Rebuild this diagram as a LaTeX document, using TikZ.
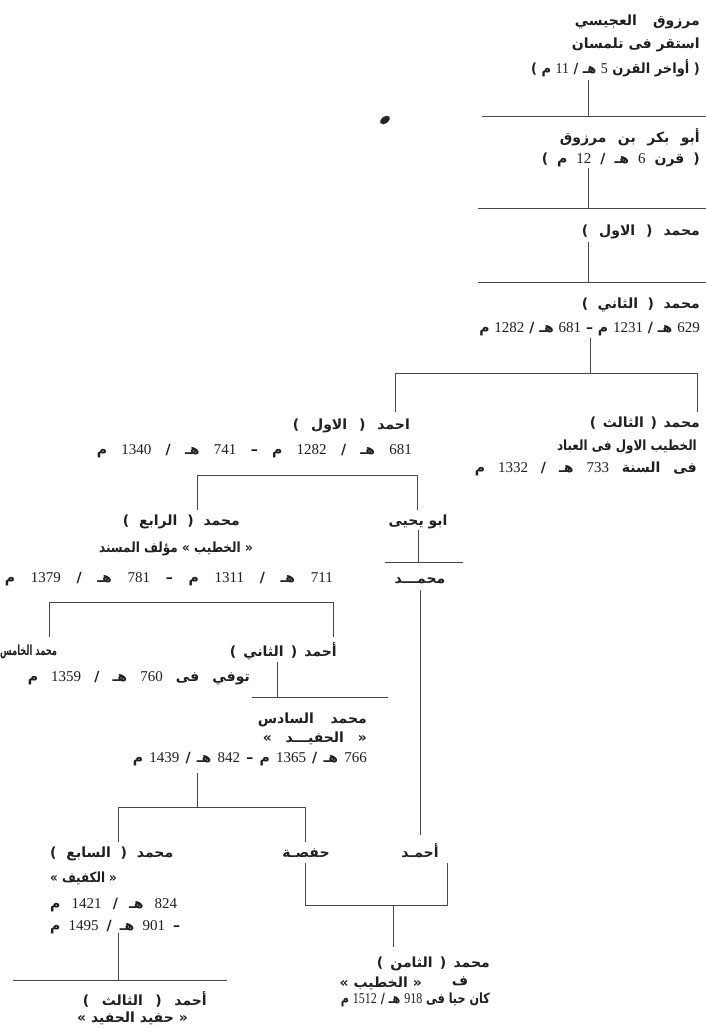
\documentclass[tikz,border=0pt]{standalone}
\usepackage{fontspec}
\usepackage{graphicx}
\TeXXeTstate=1
\newfontfamily\arabicfont[Script=Arabic]{DejaVu Sans}
\newfontfamily\numfont{Liberation Serif}
\newcommand\nm[1]{\beginL{\numfont\mdseries\fontsize{15}{15}\selectfont #1}\endL}
\hbadness=10000 \hfuzz=100pt
\begin{document}
\begin{tikzpicture}[x=1pt,y=-1pt,
  lbl/.style={inner sep=0pt, text=black!88, font=\arabicfont\bfseries\fontsize{14}{16}\selectfont},
  ln/.style={draw=black!72, line width=0.8pt}]
\useasboundingbox (0,0) rectangle (706,1029);
\fill[white] (0,0) rectangle (706,1029);

% texts
\node[lbl,anchor=base east] (t1) at (700,25) {\hbox to 125pt{\beginR مرزوق العجيسي\endR}};
\node[lbl,anchor=base east] (t2) at (700,48) {\beginR استقر فى تلمسان\endR};
\node[lbl,anchor=base east] (t3) at (700,73) {\scalebox{0.93}[1]{\beginR ( أواخر القرن \nm{5} هـ / \nm{11} م )\endR}};
\node[lbl,anchor=base east] (t4) at (700,142) {\hbox to 140pt{\beginR أبو بكر بن مرزوق\endR}};
\node[lbl,anchor=base east] (t5) at (700,163) {\hbox to 158pt{\beginR ( قرن \nm{6} هـ / \nm{12} م )\endR}};
\node[lbl,anchor=base east] (t6) at (700,235) {\hbox to 118pt{\beginR محمد ( الاول )\endR}};
\node[lbl,anchor=base east] (t7) at (700,308) {\hbox to 118pt{\beginR محمد ( الثاني )\endR}};
\node[lbl,anchor=base east] (t8) at (700,332) {\beginR \nm{629} هـ / \nm{1231} م – \nm{681} هـ / \nm{1282} م\endR};
\node[lbl,anchor=base east] (t9) at (700,427) {\hbox to 110pt{\beginR محمد ( الثالث )\endR}};
\node[lbl,anchor=base east] (t10) at (697,450) {\scalebox{0.85}[1]{\beginR الخطيب الاول فى العباد\endR}};
\node[lbl,anchor=base east] (t11) at (697,472) {\hbox to 222pt{\beginR فى السنة \nm{733} هـ / \nm{1332} م\endR}};
\node[lbl,anchor=base east] (t12) at (410,429) {\hbox to 117pt{\beginR احمد ( الاول )\endR}};
\node[lbl,anchor=base east] (t13) at (412,454) {\hbox to 315pt{\beginR \nm{681} هـ / \nm{1282} م – \nm{741} هـ / \nm{1340} م\endR}};
\node[lbl,anchor=base] (t14) at (418,525) {\beginR ابو يحيى\endR};
\node[lbl,anchor=base east] (t15) at (240,525) {\hbox to 117pt{\beginR محمد ( الرابع )\endR}};
\node[lbl,anchor=base east] (t16) at (253,552) {\scalebox{0.86}[1]{\beginR « الخطيب » مؤلف المسند\endR}};
\node[lbl,anchor=base east] (t17) at (333,582) {\hbox to 328pt{\beginR \nm{711} هـ / \nm{1311} م – \nm{781} هـ / \nm{1379} م\endR}};
\node[lbl,anchor=base] (t18) at (420,583) {\beginR محمـــد\endR};
\node[lbl,anchor=base west] (t19) at (0,655) {\scalebox{0.6}[1]{\beginR محمد الخامس\endR}};
\node[lbl,anchor=base east] (t20) at (337,656) {\hbox to 107pt{\beginR أحمد ( الثاني )\endR}};
\node[lbl,anchor=base east] (t21) at (250,681) {\hbox to 222pt{\beginR توفي فى \nm{760} هـ / \nm{1359} م\endR}};
\node[lbl,anchor=base east] (t22) at (367,723) {\hbox to 109pt{\beginR محمد السادس\endR}};
\node[lbl,anchor=base east] (t23) at (367,742) {\hbox to 104pt{\beginR « الحفيـــد »\endR}};
\node[lbl,anchor=base east] (t24) at (367,762) {\hbox to 234pt{\beginR \nm{766} هـ / \nm{1365} م – \nm{842} هـ / \nm{1439} م\endR}};
\node[lbl,anchor=base west] (t25) at (50,857) {\hbox to 123pt{\beginR محمد ( السابع )\endR}};
\node[lbl,anchor=base west] (t26) at (50,882) {\scalebox{0.85}[1]{\beginR « الكفيف »\endR}};
\node[lbl,anchor=base west] (t27) at (50,908) {\hbox to 127pt{\beginR \nm{824} هـ / \nm{1421} م\endR}};
\node[lbl,anchor=base west] (t28) at (50,930) {\hbox to 130pt{\beginR – \nm{901} هـ / \nm{1495} م\endR}};
\node[lbl,anchor=base] (t29) at (306,857) {\beginR حفصـة\endR};
\node[lbl,anchor=base] (t30) at (420,857) {\beginR أحمـد\endR};
\node[lbl,anchor=base east] (t31) at (490,967) {\hbox to 113pt{\beginR محمد ( الثامن )\endR}};
\node[lbl,anchor=base east] (t32) at (422,987) {\beginR « الخطيب »\endR};
\node[lbl,anchor=base] (t33) at (460,985) {\beginR ف\endR};
\node[lbl,anchor=base east] (t34) at (490,1003) {\scalebox{0.8}[1]{\beginR كان حيا فى \nm{918} هـ / \nm{1512} م\endR}};
\node[lbl,anchor=base east] (t35) at (207,1005) {\hbox to 124pt{\beginR أحمد ( الثالث )\endR}};
\node[lbl,anchor=base east] (t36) at (188,1022) {\beginR « حفيد الحفيد »\endR};

% junction coordinates
\coordinate (a1) at (588,80);  \coordinate (a2) at (588,116);
\coordinate (h1l) at (482,116); \coordinate (h1r) at (706,116);
\coordinate (b1) at (588,168); \coordinate (b2) at (588,208);
\coordinate (h2l) at (478,208); \coordinate (h2r) at (706,208);
\coordinate (c1) at (588,242); \coordinate (c2) at (588,282);
\coordinate (h3l) at (478,282); \coordinate (h3r) at (706,282);
\coordinate (d1) at (590,338); \coordinate (d2) at (590,373);
\coordinate (h4l) at (395,373); \coordinate (h4r) at (697,373);
\coordinate (d3) at (395,412); \coordinate (d4) at (697,412);
\coordinate (h5l) at (197,475); \coordinate (h5r) at (417,475);
\coordinate (e1) at (197,510); \coordinate (e2) at (417,510);
\coordinate (f1) at (418,530); \coordinate (f2) at (418,562);
\coordinate (h6l) at (385,562); \coordinate (h6r) at (463,562);
\coordinate (g1) at (420,590); \coordinate (g2) at (420,835);
\coordinate (h7l) at (49,602); \coordinate (h7r) at (333,602);
\coordinate (i1) at (49,637); \coordinate (i2) at (333,637);
\coordinate (k1) at (277,662); \coordinate (k2) at (277,697);
\coordinate (h8l) at (252,697); \coordinate (h8r) at (388,697);
\coordinate (m1) at (197,773); \coordinate (m2) at (197,807);
\coordinate (h9l) at (118,807); \coordinate (h9r) at (305,807);
\coordinate (n1) at (118,842); \coordinate (n2) at (305,842);
\coordinate (p1) at (305,863); \coordinate (p2) at (305,905);
\coordinate (q1) at (447,863); \coordinate (q2) at (447,905);
\coordinate (r1) at (393,905); \coordinate (r2) at (393,947);
\coordinate (s1) at (118,933); \coordinate (s2) at (118,980);
\coordinate (h10l) at (13,980); \coordinate (h10r) at (227,980);

% connectors
\draw[ln] (a1) -- (a2); \draw[ln] (h1l) -- (h1r);
\draw[ln] (b1) -- (b2); \draw[ln] (h2l) -- (h2r);
\draw[ln] (c1) -- (c2); \draw[ln] (h3l) -- (h3r);
\draw[ln] (d1) -- (d2); \draw[ln] (d3) -- (h4l) -- (h4r) -- (d4);
\draw[ln] (e1) -- (h5l) -- (h5r) -- (e2);
\draw[ln] (f1) -- (f2); \draw[ln] (h6l) -- (h6r);
\draw[ln] (g1) -- (g2);
\draw[ln] (i1) -- (h7l) -- (h7r) -- (i2);
\draw[ln] (k1) -- (k2); \draw[ln] (h8l) -- (h8r);
\draw[ln] (m1) -- (m2); \draw[ln] (n1) -- (h9l) -- (h9r) -- (n2);
\draw[ln] (p1) -- (p2) -- (q2) -- (q1); \draw[ln] (r1) -- (r2);
\draw[ln] (s1) -- (s2); \draw[ln] (h10l) -- (h10r);

% ink blot
\fill[black!85, rotate around={35:(385,120)}] (385,120) ellipse [x radius=5.5pt, y radius=3.5pt];
\end{tikzpicture}
\end{document}
